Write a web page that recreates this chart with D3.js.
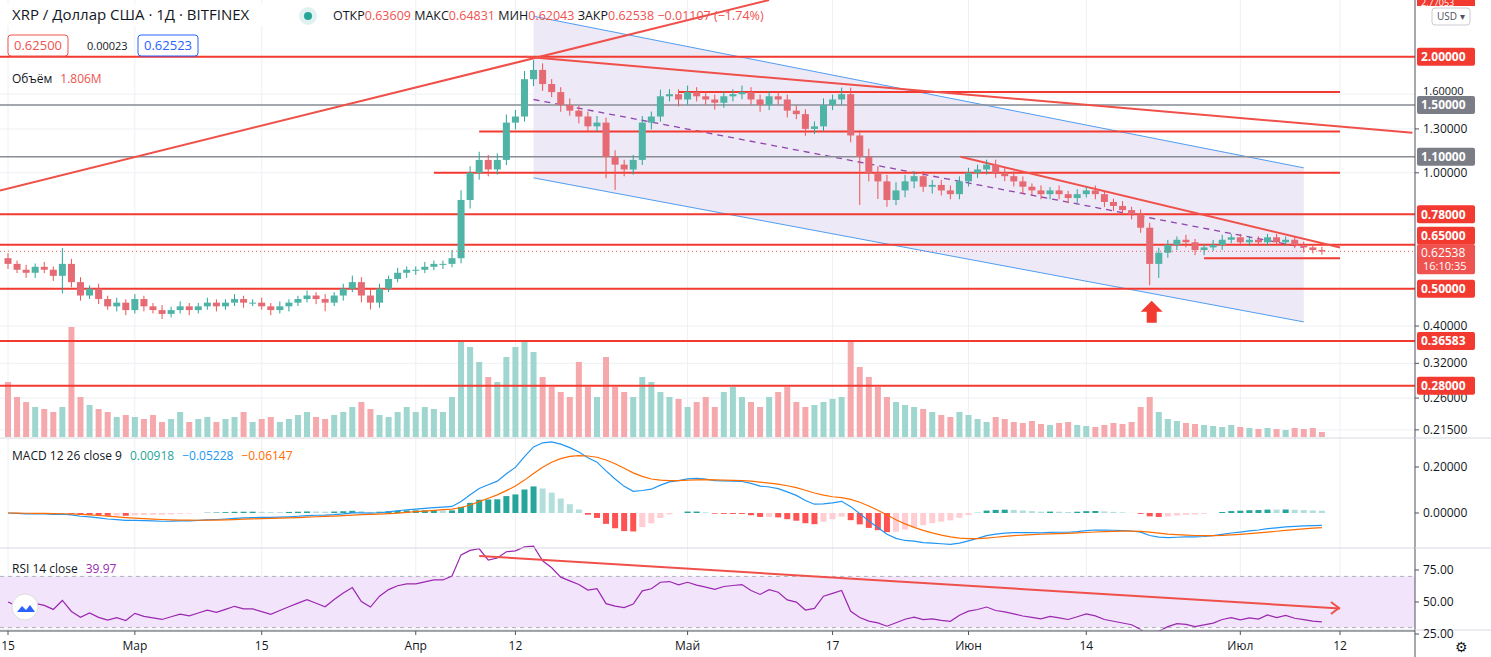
<html>
<head>
<meta charset="utf-8">
<style>
  body { margin: 0; background: #fff; font-family: "Open Sans", "Noto Sans", sans-serif; }
  text { font-family: "Open Sans", "Noto Sans", sans-serif; }
</style>
</head>
<body>
<svg id="container" width="1491" height="657"></svg>
<script src="https://cdn.jsdelivr.net/npm/d3@7"></script>
<script>
// daily closes from 2021-02-15
const closes = [
  0.58,0.56,0.55,0.57,0.56,0.54,0.58,0.52,0.48,0.50,0.47,0.45,0.46,0.44,
  0.47,0.45,0.44,0.43,0.44,0.45,0.44,0.45,0.46,0.45,0.46,0.47,0.46,0.46,0.45,0.44,0.45,0.46,0.47,0.48,0.47,0.46,0.48,0.50,0.52,0.48,0.46,0.50,0.53,0.55,0.56,
  0.56,0.57,0.58,0.58,0.60,0.85,1.00,1.08,1.02,1.08,1.35,1.40,1.75,1.85,1.70,1.62,1.50,1.45,1.40,1.32,1.35,1.10,1.05,1.02,1.08,1.35,1.40,1.58,1.60,1.55,
  1.62,1.58,1.55,1.52,1.58,1.60,1.62,1.55,1.50,1.58,1.55,1.45,1.42,1.30,1.32,1.50,1.55,1.60,1.25,1.10,1.00,0.95,0.85,0.90,0.95,0.98,0.92,0.93,0.90,0.88,0.95,
  1.00,1.02,1.05,1.00,0.98,0.95,0.92,0.90,0.88,0.90,0.88,0.86,0.88,0.90,0.88,0.84,0.82,0.80,0.78,0.72,0.58,0.62,0.65,0.67,0.66,0.63,0.64,0.65,0.67,0.68,
  0.66,0.67,0.66,0.68,0.66,0.67,0.65,0.64,0.63,0.625
]
const firstOpen = 0.60
// wick sizes, percent above/below body
const wickUp = [
  3,2,3,2,3,2,10,3,3,2,3,2,3,2,
  3,2,2,3,2,3,2,2,3,2,2,3,2,2,3,2,3,2,2,3,2,3,2,3,4,3,4,3,2,3,2,
  2,3,2,2,5,6,4,5,3,4,5,4,5,6,4,3,3,4,3,3,4,3,4,3,3,4,3,4,3,3,
  4,3,3,3,3,3,4,3,3,3,3,3,3,3,3,4,3,4,4,3,5,4,4,5,4,3,3,3,3,3,3,
  3,3,3,3,3,3,3,2,3,2,3,2,3,2,3,2,2,3,2,3,3,3,3,2,3,2,2,3,3,2,
  2,2,2,2,2,2,2,2,2,2
]
const wickDown = [
  3,2,3,3,2,3,10,3,3,2,3,2,3,3,
  2,3,2,3,2,2,3,2,2,3,2,2,3,2,2,3,2,3,2,2,3,5,2,3,2,4,4,3,2,2,3,
  3,2,2,3,2,3,5,4,4,3,3,4,3,4,4,3,4,3,4,3,3,12,14,4,3,3,4,3,3,4,
  3,3,3,4,3,3,3,3,4,3,3,4,3,4,3,3,3,3,4,25,5,10,4,3,4,4,3,4,3,3,3,
  3,3,3,3,3,3,4,3,3,3,3,3,3,2,3,3,3,3,3,3,12,8,3,3,3,3,3,2,3,2,
  2,2,2,2,2,2,2,3,2,2
]
const volumes = [
  55,40,35,30,28,25,30,110,40,32,28,25,20,22,
  20,18,22,15,18,25,15,18,20,15,18,20,25,15,18,20,15,18,22,25,20,18,22,25,30,35,28,22,20,25,30,
  25,30,28,25,40,95,90,75,60,55,80,90,95,85,60,50,45,40,75,50,40,80,50,45,40,60,55,45,40,38,
  30,35,40,30,45,50,40,35,30,40,45,50,35,30,32,35,38,40,95,70,60,50,40,35,32,30,28,25,22,20,25,
  22,18,15,20,18,15,14,16,13,12,14,15,12,11,10,12,14,13,15,30,40,25,18,16,14,13,12,11,10,12,
  10,9,8,9,8,7,9,8,9,5
]
const priceTicks = [2.0, 1.6, 1.5, 1.3, 1.1, 1.0, 0.78, 0.65, 0.5, 0.4, 0.32, 0.26, 0.215]
const redLevels = [2.0, 0.78, 0.65, 0.5, 0.36583, 0.28]
const grayLevels = [1.5, 1.1]
const partialLevels = [[1.62, "2021-04-30", "2021-07-12"], [1.28, "2021-04-08", "2021-07-12"], [1.0, "2021-04-03", "2021-07-12"], [0.60, "2021-06-27", "2021-07-12"]]
const xTicks = [["2021-02-15","15"],["2021-03-01","Мар"],["2021-03-15","15"],["2021-04-01","Апр"],["2021-04-12","12"],["2021-05-01","Май"],["2021-05-17","17"],["2021-06-01","Июн"],["2021-06-14","14"],["2021-07-01","Июл"],["2021-07-12","12"]]

const W = 1491, AX = 1415
const svg = d3.select("#container")
const parse = d3.timeParse("%Y-%m-%d")
const start = parse("2021-02-15")
const days = closes.map((c, i) => d3.timeDay.offset(start, i))
const candles = closes.map((c, i) => {
  const o = i == 0 ? firstOpen : closes[i - 1]
  return { d: days[i], o, c, h: Math.max(o, c) * (1 + wickUp[i] / 100), l: Math.min(o, c) * (1 - wickDown[i] / 100), v: volumes[i] }
})

const x = d3.scaleTime().domain([start, parse("2021-07-12")]).range([8, 1340])
const y = d3.scaleLog().domain([0.206, 2.81]).range([437, 0])
const yVol = d3.scaleLinear().domain([0, 100]).range([437, 337])

// grid
const g = svg.append("g")
g.selectAll(".vg").data(xTicks).enter().append("line")
  .attr("x1", d => x(parse(d[0]))).attr("x2", d => x(parse(d[0]))).attr("y1", 0).attr("y2", 630)
  .attr("stroke", "#eef0f4")
g.selectAll(".hg").data(priceTicks).enter().append("line")
  .attr("x1", 0).attr("x2", AX).attr("y1", d => y(d)).attr("y2", d => y(d)).attr("stroke", "#eef0f4")

// channel
const chTop = [["2021-04-14", 2.55], ["2021-07-08", 1.03]]
const chBot = [["2021-04-14", 0.97], ["2021-07-08", 0.41]]
const pt = p => [x(parse(p[0])), y(p[1])]
svg.append("polygon")
  .attr("points", [pt(chTop[0]), pt(chTop[1]), pt(chBot[1]), pt(chBot[0])].map(p => p.join(",")).join(" "))
  .attr("fill", "#ebe7f5").attr("opacity", 0.9)
;[chTop, chBot].forEach(l => svg.append("line")
  .attr("x1", pt(l[0])[0]).attr("y1", pt(l[0])[1]).attr("x2", pt(l[1])[0]).attr("y2", pt(l[1])[1])
  .attr("stroke", "#4f9df0").attr("stroke-width", 1))
svg.append("line").attr("x1", pt(["2021-04-14", 1.55])[0]).attr("y1", pt(["2021-04-14", 1.55])[1])
  .attr("x2", pt(["2021-07-08", 0.64])[0]).attr("y2", pt(["2021-07-08", 0.64])[1])
  .attr("stroke", "#8e44ad").attr("stroke-dasharray", "6,5").attr("stroke-width", 1.3)

// volume
const vw = 6
svg.selectAll(".vol").data(candles).enter().append("rect")
  .attr("x", d => x(d.d) - vw / 2).attr("width", vw)
  .attr("y", d => yVol(d.v)).attr("height", d => 437 - yVol(d.v))
  .attr("fill", d => d.c >= d.o ? "#9fd6cf" : "#f5a9ac")

// levels
const lvl = svg.append("g")
redLevels.forEach(v => lvl.append("line").attr("x1", 0).attr("x2", AX).attr("y1", y(v)).attr("y2", y(v)).attr("stroke", "#f23a30").attr("stroke-width", 2))
grayLevels.forEach(v => lvl.append("line").attr("x1", 0).attr("x2", AX).attr("y1", y(v)).attr("y2", y(v)).attr("stroke", "#8a8d96").attr("stroke-width", 1.5))
partialLevels.forEach(p => lvl.append("line").attr("x1", x(parse(p[1]))).attr("x2", x(parse(p[2])))
  .attr("y1", y(p[0])).attr("y2", y(p[0])).attr("stroke", "#f23a30").attr("stroke-width", 2))
// trend lines
const trends = [[["2021-02-15", 0.90], ["2021-05-10", 2.81]], [["2021-04-14", 2.0], ["2021-07-20", 1.27]], [["2021-06-01", 1.1], ["2021-07-12", 0.64]]]
trends.forEach(l => svg.append("line").attr("x1", Math.max(0, pt(l[0])[0] - 8)).attr("y1", pt(l[0])[1])
  .attr("x2", Math.min(AX, pt(l[1])[0])).attr("y2", pt(l[1])[1]).attr("stroke", "#f0504a").attr("stroke-width", 2))

// candles
const cg = svg.selectAll(".c").data(candles).enter().append("g")
cg.append("line").attr("x1", d => x(d.d)).attr("x2", d => x(d.d)).attr("y1", d => y(d.h)).attr("y2", d => y(d.l))
  .attr("stroke", d => d.c >= d.o ? "#26a69a" : "#ef5350")
cg.append("rect").attr("x", d => x(d.d) - 3.5).attr("width", 7)
  .attr("y", d => y(Math.max(d.o, d.c))).attr("height", d => Math.max(1, Math.abs(y(d.o) - y(d.c))))
  .attr("fill", d => d.c >= d.o ? "#4fb3a6" : "#e56a73")

// last price dotted
svg.append("line").attr("x1", 0).attr("x2", AX).attr("y1", y(0.62538)).attr("y2", y(0.62538))
  .attr("stroke", "#ef5350").attr("stroke-dasharray", "1,3")

// arrow
const ax0 = x(parse("2021-06-21")) + 2
svg.append("path").attr("d", `M${ax0},${y(0.465)} l-11,11 h6 v11 h10 v-11 h6 z`).attr("fill", "#f23a30")

// --- MACD ---
function ema(arr, n) { const k = 2 / (n + 1); let out = [], e = arr[0]; arr.forEach(v => { e = v * k + e * (1 - k); out.push(e) }); return out }
const e12 = ema(closes, 12), e26 = ema(closes, 26)
const macd = closes.map((c, i) => e12[i] - e26[i])
const sig = ema(macd, 9)
const hist = macd.map((m, i) => m - sig[i])
const yM = d3.scaleLinear().domain([0, 0.2]).range([513, 467])
svg.selectAll(".h").data(hist).enter().append("rect")
  .attr("x", (d, i) => x(days[i]) - 3).attr("width", 6)
  .attr("y", d => d >= 0 ? yM(d) : yM(0)).attr("height", d => Math.abs(yM(d) - yM(0)))
  .attr("fill", (d, i) => { const up = i > 0 && d > hist[i - 1]; return d >= 0 ? (up ? "#26a69a" : "#b2dfdb") : (up ? "#ffcdd2" : "#ff5252") })
const lineM = d3.line().x((d, i) => x(days[i])).y(d => yM(d))
svg.append("path").attr("d", lineM(macd)).attr("fill", "none").attr("stroke", "#2196f3").attr("stroke-width", 1.2)
svg.append("path").attr("d", lineM(sig)).attr("fill", "none").attr("stroke", "#ff6d00").attr("stroke-width", 1.2)

// --- RSI (Wilder, seeded with neutral averages) ---
let rsi = [], ag = 0.012, al = 0.012
closes.forEach((c, i) => {
  if (i > 0) {
    const ch = c - closes[i - 1]
    ag = (ag * 13 + Math.max(ch, 0)) / 14
    al = (al * 13 + Math.max(-ch, 0)) / 14
  }
  rsi.push(100 - 100 / (1 + ag / al))
})
const yR = d3.scaleLinear().domain([25, 75]).range([634, 570])
svg.append("rect").attr("x", 0).attr("width", AX).attr("y", yR(70)).attr("height", yR(30) - yR(70)).attr("fill", "#f1e4fb")
;[70, 30].forEach(v => svg.append("line").attr("x1", 0).attr("x2", AX).attr("y1", yR(v)).attr("y2", yR(v)).attr("stroke", "#b0b0b8").attr("stroke-dasharray", "4,4"))
svg.append("path").attr("d", d3.line().x((d, i) => x(days[i])).y(d => yR(d))(rsi)).attr("fill", "none").attr("stroke", "#9c27b0").attr("stroke-width", 1.2)
svg.append("line").attr("x1", x(parse("2021-04-08"))).attr("y1", yR(86)).attr("x2", x(parse("2021-07-12"))).attr("y2", yR(45))
  .attr("stroke", "#f0504a").attr("stroke-width", 2)
svg.append("path").attr("d", `M${x(parse("2021-07-11"))},${yR(50)} l8,6 l-8,6`).attr("fill", "none").attr("stroke", "#f0504a").attr("stroke-width", 2)

// pane separators and axes
;[438, 548, 630].forEach(v => svg.append("line").attr("x1", 0).attr("x2", W).attr("y1", v).attr("y2", v).attr("stroke", "#d6d9e0"))
svg.append("rect").attr("x", AX).attr("y", 0).attr("width", W - AX).attr("height", 657).attr("fill", "#fff")
svg.append("rect").attr("x", 0).attr("y", 631).attr("width", AX).attr("height", 26).attr("fill", "#fff")
svg.append("line").attr("x1", AX).attr("x2", AX).attr("y1", 0).attr("y2", 657).attr("stroke", "#50535e")
svg.append("line").attr("x1", 0).attr("x2", AX).attr("y1", 631).attr("y2", 631).attr("stroke", "#50535e")
;[438, 548, 630].forEach(v => svg.append("line").attr("x1", AX).attr("x2", W).attr("y1", v).attr("y2", v).attr("stroke", "#d6d9e0"))

const ya = svg.append("g").attr("font-size", 12).attr("fill", "#131722")
const plain = priceTicks.filter(v => !redLevels.includes(v) && !grayLevels.includes(v) && v != 1.6)
plain.forEach(v => {
  ya.append("line").attr("x1", AX).attr("x2", AX + 4).attr("y1", y(v)).attr("y2", y(v)).attr("stroke", "#50535e")
  ya.append("text").attr("x", AX + 8).attr("y", y(v) + 4).text(d3.format(".5f")(v))
})
ya.append("text").attr("x", AX + 8).attr("y", y(1.6) + 1).attr("font-size", 11).text("1.60000")
function tag(v, col, yy) {
  ya.append("rect").attr("x", AX + 2).attr("y", yy - 9).attr("width", 58).attr("height", 18).attr("rx", 2).attr("fill", col)
  ya.append("text").attr("x", AX + 6).attr("y", yy + 4.5).attr("fill", "#fff").attr("font-weight", "bold").text(v)
}
redLevels.filter(v => v != 0.65).forEach(v => tag(d3.format(".5f")(v), "#f23a30", y(v)))
grayLevels.forEach(v => tag(d3.format(".5f")(v), "#7a7d86", y(v)))
tag("0.65000", "#f23a30", y(0.65) - 9)
ya.append("rect").attr("x", AX + 2).attr("y", y(0.62538) - 7).attr("width", 58).attr("height", 30).attr("rx", 2).attr("fill", "#ef5350")
ya.append("text").attr("x", AX + 6).attr("y", y(0.62538) + 6).attr("fill", "#fff").text("0.62538")
ya.append("text").attr("x", AX + 8).attr("y", y(0.62538) + 19).attr("fill", "#fff").attr("font-size", 11).text("16:10:35")
ya.append("rect").attr("x", AX + 2).attr("y", -2).attr("width", 58).attr("height", 8).attr("fill", "#f23a30")
ya.append("text").attr("x", AX + 6).attr("y", 6).attr("fill", "#fff").attr("font-size", 9).text("2.77053")
ya.append("rect").attr("x", 1432).attr("y", 8).attr("width", 38).attr("height", 17).attr("rx", 3).attr("fill", "#fff").attr("stroke", "#c9ccd3")
ya.append("text").attr("x", 1437).attr("y", 20).attr("font-size", 10).attr("fill", "#50535e").text("USD ▾")
;[0.2, 0].forEach(v => {
  ya.append("line").attr("x1", AX).attr("x2", AX + 4).attr("y1", yM(v)).attr("y2", yM(v)).attr("stroke", "#50535e")
  ya.append("text").attr("x", AX + 8).attr("y", yM(v) + 4).text(d3.format(".5f")(v))
})
;[75, 50, 25].forEach(v => {
  ya.append("line").attr("x1", AX).attr("x2", AX + 4).attr("y1", yR(v)).attr("y2", yR(v)).attr("stroke", "#50535e")
  ya.append("text").attr("x", AX + 8).attr("y", Math.min(yR(v) + 4, 638)).text(d3.format(".2f")(v))
})
ya.append("text").attr("x", 1455).attr("y", 652).attr("font-size", 14).attr("fill", "#131722").text("⚙")

const xa = svg.append("g").attr("font-size", 12).attr("fill", "#131722")
xTicks.forEach(t => {
  xa.append("line").attr("x1", x(parse(t[0]))).attr("x2", x(parse(t[0]))).attr("y1", 631).attr("y2", 635).attr("stroke", "#50535e")
  xa.append("text").attr("x", x(parse(t[0]))).attr("y", 650).attr("text-anchor", "middle").text(t[1])
})

// legends
const lg = svg.append("g").attr("font-size", 13)
lg.append("rect").attr("x", 4).attr("y", 4).attr("width", 405).attr("height", 22).attr("fill", "#fff").attr("opacity", 0.8)
lg.append("text").attr("x", 12).attr("y", 20).attr("font-size", 15).attr("fill", "#131722").text("XRP / Доллар США · 1Д · BITFINEX")
lg.append("circle").attr("cx", 308).attr("cy", 16).attr("r", 9).attr("fill", "#e0f2ef")
lg.append("circle").attr("cx", 308).attr("cy", 16).attr("r", 4).attr("fill", "#26a69a")
const ohlc = lg.append("text").attr("x", 333).attr("y", 20).attr("font-size", 12.5)
;[["ОТКР", "0.63609 "], ["МАКС", "0.64831 "], ["МИН", "0.62043 "], ["ЗАКР", "0.62538 "], ["", "−0.01107 (−1.74%)"]].forEach(p => {
  ohlc.append("tspan").attr("fill", "#131722").text(p[0])
  ohlc.append("tspan").attr("fill", "#ef5350").text(p[1])
})
lg.append("rect").attr("x", 8).attr("y", 35).attr("width", 60).attr("height", 21).attr("rx", 3).attr("fill", "#fff").attr("stroke", "#ef5350")
lg.append("text").attr("x", 14).attr("y", 50).attr("fill", "#ef5350").text("0.62500")
lg.append("text").attr("x", 87).attr("y", 50).attr("font-size", 11).attr("fill", "#131722").text("0.00023")
lg.append("rect").attr("x", 138).attr("y", 35).attr("width", 60).attr("height", 21).attr("rx", 3).attr("fill", "#fff").attr("stroke", "#2962ff")
lg.append("text").attr("x", 144).attr("y", 50).attr("fill", "#2962ff").text("0.62523")
lg.append("text").attr("x", 12).attr("y", 83).attr("font-size", 12).attr("fill", "#131722").text("Объём").append("tspan").attr("dx", 8).attr("fill", "#ef5350").text("1.806M")
const ml = lg.append("text").attr("x", 12).attr("y", 460).attr("font-size", 12).attr("fill", "#131722").text("MACD 12 26 close 9")
ml.append("tspan").attr("dx", 8).attr("fill", "#26a69a").text("0.00918")
ml.append("tspan").attr("dx", 8).attr("fill", "#2196f3").text("−0.05228")
ml.append("tspan").attr("dx", 8).attr("fill", "#ff6d00").text("−0.06147")
lg.append("text").attr("x", 12).attr("y", 573).attr("font-size", 12).attr("fill", "#131722").text("RSI 14 close").append("tspan").attr("dx", 8).attr("fill", "#9c27b0").text("39.97")
lg.append("rect").attr("x", 12).attr("y", 594).attr("width", 26).attr("height", 26).attr("rx", 13).attr("fill", "#fff").attr("stroke", "#ddd")
lg.append("path").attr("d", "M17,612 l5,-6 l4,4 l4,-5 l5,7 z").attr("fill", "#2962ff")
</script>
</body>
</html>
